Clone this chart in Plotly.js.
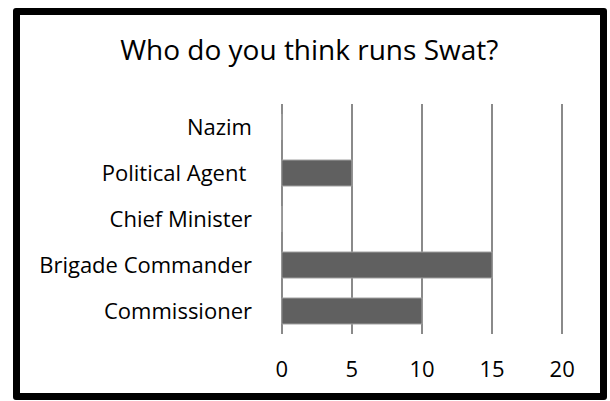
<!DOCTYPE html>
<html>
<head>
<meta charset="utf-8">
<script src="https://cdn.plot.ly/plotly-3.0.1.min.js"></script>
<style>
html,body{margin:0;padding:0;background:#fff;}
#chart{width:610px;height:401px;position:relative;}
#frame{position:absolute;left:13px;top:8px;width:580px;height:378px;border:7px solid #000;border-radius:3px;pointer-events:none;}
</style>
</head>
<body>
<div id="wrap" style="position:relative;width:610px;height:401px;">
<div id="chart"></div>
<div id="frame"></div>
</div>
<script>
var categories = ['Nazim', 'Political Agent ', 'Chief Minister', 'Brigade Commander', 'Commissioner'];
var values = [0, 5, 0, 15, 10];
var tickValues = [0, 5, 10, 15, 20];
var tickLabels = ['0', '5', '10', '15', '20'];

var trace = {
  type: 'bar',
  orientation: 'h',
  y: categories,
  x: values,
  marker: {color: '#606060', line: {color: '#a0a0a0', width: 1}},
  hoverinfo: 'none'
};

var fam = '"Open Sans", Lato, sans-serif';

var layout = {
  width: 610,
  height: 401,
  margin: {l: 279, r: 45, t: 104, b: 67},
  paper_bgcolor: '#ffffff',
  plot_bgcolor: '#ffffff',
  font: {family: fam, color: '#000', size: 22},
  title: {text: 'Who do you think runs Swat?', x: 0.507, xanchor: 'center', y: 0.875, yanchor: 'middle',
          font: {size: 28, family: fam, color: '#000'}},
  bargap: 0.435,
  showlegend: false,
  xaxis: {
    range: [-0.2, 20.2],
    tickvals: tickValues,
    ticktext: tickLabels,
    showgrid: true,
    gridcolor: '#8a8a8a',
    gridwidth: 2,
    zeroline: false,
    showline: false,
    ticks: '',
    ticklabelstandoff: 20,
    fixedrange: true
  },
  yaxis: {
    autorange: 'reversed',
    showgrid: false,
    zeroline: false,
    showline: false,
    ticks: '',
    ticklabelstandoff: 26,
    fixedrange: true
  }
};

Plotly.newPlot('chart', [trace], layout, {displayModeBar: false, staticPlot: true});
</script>
</body>
</html>
